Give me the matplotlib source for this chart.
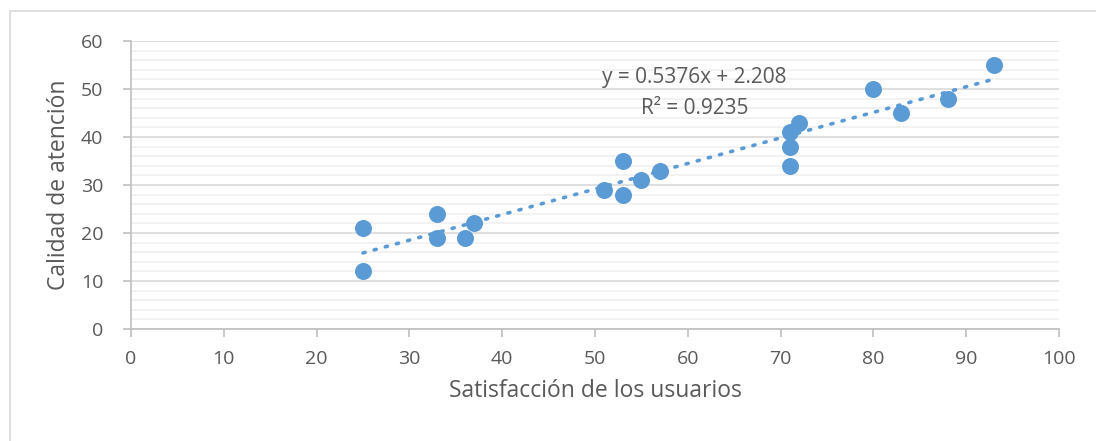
import matplotlib.pyplot as plt
import numpy as np
from matplotlib.patches import Rectangle

plt.rcParams['font.family'] = ['Open Sans', 'DejaVu Sans']

satisfaccion = [25, 25, 33, 33, 36, 37, 51, 53, 53, 55, 57, 71, 71, 71, 72, 80, 83, 88, 93]
calidad = [21, 12, 24, 19, 19, 22, 29, 35, 28, 31, 33, 41, 38, 34, 43, 50, 45, 48, 55]
x_ticks = [0, 10, 20, 30, 40, 50, 60, 70, 80, 90, 100]
y_ticks = [0, 10, 20, 30, 40, 50, 60]
ecuacion = "y = 0.5376x + 2.208"
r2_texto = "R² = 0.9235"

blue = "#5B9BD5"
gray_text = "#595959"

fig = plt.figure(figsize=(10.96, 4.41), dpi=100)
# chart border like excel
fig.patches.append(Rectangle((10 / 1096, -0.1), 1.2, 1 - 11 / 441 + 0.1,
                             transform=fig.transFigure, fill=False,
                             edgecolor="#D9D9D9", linewidth=1.2))

ax = fig.add_axes([131 / 1096, 1 - 329 / 441, (1059 - 131) / 1096, (329 - 41) / 441])

ax.set_xlim(0, 100)
ax.set_ylim(0, 60)
ax.set_xticks(x_ticks)
ax.set_yticks(y_ticks)
ax.set_yticks(np.arange(0, 61, 2), minor=True)
ax.grid(True, axis="y", which="major", color="#D9D9D9", linewidth=1.2)
ax.grid(True, axis="y", which="minor", color="#F0F0F0", linewidth=1.2)
ax.set_axisbelow(True)

for s in ["top", "right"]:
    ax.spines[s].set_visible(False)
for s in ["left", "bottom"]:
    ax.spines[s].set_color("#BFBFBF")
    ax.spines[s].set_linewidth(1.2)

ax.tick_params(axis="both", which="major", length=6, color="#BFBFBF", width=1.2,
               labelsize=14, labelcolor=gray_text)
ax.tick_params(axis="x", pad=9)
ax.tick_params(axis="y", pad=14)
ax.tick_params(which="minor", length=0)

# trendline
m, b = np.polyfit(satisfaccion, calidad, 1)
xs = np.array([min(satisfaccion), max(satisfaccion)])
ax.plot(xs, m * xs + b, linestyle=(0, (0.6, 2.6)), color=blue, linewidth=2.6,
        dash_capstyle="round", zorder=2)

ax.scatter(satisfaccion, calidad, s=150, color=blue, zorder=3, linewidths=0)

ax.text(60.7, 52.4, ecuacion, fontsize=15, color=gray_text, ha="center", va="center")
ax.text(60.7, 46.0, r2_texto, fontsize=15, color=gray_text, ha="center", va="center")

ax.set_xlabel("Satisfacción de los usuarios", fontsize=16.5, color=gray_text, labelpad=8)
ax.set_ylabel("Calidad de atención", fontsize=16.5, color=gray_text, labelpad=7)

fig.savefig("out.png", dpi=100)
